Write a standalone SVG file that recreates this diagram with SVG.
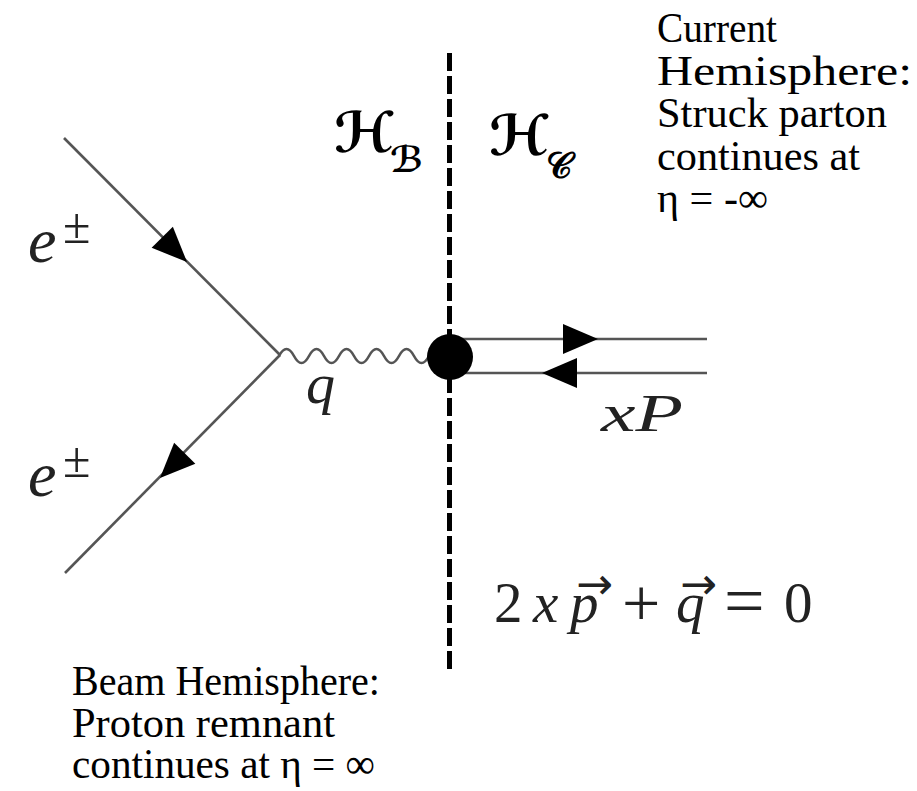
<svg xmlns="http://www.w3.org/2000/svg" width="917" height="791" viewBox="0 0 917 791">
<style>
.line{stroke:#555;stroke-width:2.6;fill:none}
.wave{stroke:#555;stroke-width:2.6;fill:none}
.dash{stroke:#000;stroke-width:5;stroke-dasharray:18 5;fill:none}
.math{font-family:"Liberation Serif","DejaVu Serif",serif;fill:#222}
.it{font-style:italic}
.vec{font-family:"DejaVu Sans",sans-serif;font-style:normal;font-size:44px}
.script{font-family:"DejaVu Sans","DejaVu Serif",serif;fill:#000;font-weight:bold}
.note{font-family:"Liberation Serif","DejaVu Serif",serif;font-size:42px;fill:#000}
</style>
<defs>
<path id="ah" d="M0,0 L-35,-15 L-35,15 Z" fill="#000"/>
</defs>
<rect width="917" height="791" fill="#fff"/>
<g id="connectors">
<line class="dash" x1="449.5" y1="53" x2="449.5" y2="672"/>
<line class="line" x1="64" y1="138" x2="280" y2="355"/>
<line class="line" x1="280" y1="355" x2="65" y2="573"/>
<path class="wave" d="M279,356 q7.5,-14 15,0 t15,0 t15,0 t15,0 t15,0 t15,0 t15,0 t15,0 t15,0 t15,0"/>
<line class="line" x1="450" y1="339" x2="707" y2="339"/>
<line class="line" x1="450" y1="373" x2="707" y2="373"/>
<use href="#ah" transform="translate(187,262) rotate(45)"/>
<use href="#ah" transform="translate(160,478) rotate(135)"/>
<use href="#ah" transform="translate(598,339)"/>
<use href="#ah" transform="translate(542,373) rotate(180)"/>
</g>
<g id="vertex">
<circle cx="450" cy="357" r="23" fill="#000"/>
</g>
<g id="label-e1">
<text class="math it" x="28" y="262" font-size="64">e<tspan font-style="normal" font-size="50" x="63" y="243">±</tspan></text>
</g>
<g id="label-e2">
<text class="math it" x="28" y="496" font-size="64">e<tspan font-style="normal" font-size="50" x="63" y="477">±</tspan></text>
</g>
<g id="label-q">
<text class="math it" x="306" y="403" font-size="58">q</text>
</g>
<g id="label-xP">
<text class="math it" x="601" y="431" font-size="52" textLength="82" lengthAdjust="spacingAndGlyphs">xP</text>
</g>
<g id="label-HB">
<text class="script" x="334" y="152" font-size="56">ℋ<tspan x="390" y="172" font-size="36">ℬ</tspan></text>
</g>
<g id="label-HC">
<text class="script" x="489" y="155" font-size="56">ℋ<tspan x="546" y="178" font-size="36">𝒞</tspan></text>
</g>
<g id="equation">
<text class="math" x="494" y="622" font-size="57">2<tspan class="it" x="533">x</tspan><tspan class="it" x="570">p</tspan><tspan class="vec" x="576" y="599">→</tspan><tspan x="622" y="626" font-size="68">+</tspan><tspan class="it" x="676" y="622">q</tspan><tspan class="vec" x="680" y="599">→</tspan><tspan x="724" y="625" font-size="72">=</tspan><tspan x="784" y="622">0</tspan></text>
</g>
<g id="current-hemisphere">
<text class="note" x="657" y="42" textLength="120" lengthAdjust="spacingAndGlyphs">Current</text>
<text class="note" x="657" y="85" textLength="255" lengthAdjust="spacingAndGlyphs">Hemisphere:</text>
<text class="note" x="657" y="127" textLength="230" lengthAdjust="spacingAndGlyphs">Struck parton</text>
<text class="note" x="657" y="170" textLength="203" lengthAdjust="spacingAndGlyphs">continues at</text>
<text class="note" x="657" y="212" textLength="111" lengthAdjust="spacingAndGlyphs">η = -∞</text>
</g>
<g id="beam-hemisphere">
<text class="note" x="72" y="695" textLength="308" lengthAdjust="spacingAndGlyphs">Beam Hemisphere:</text>
<text class="note" x="72" y="737" textLength="263" lengthAdjust="spacingAndGlyphs">Proton remnant</text>
<text class="note" x="72" y="778" textLength="303" lengthAdjust="spacingAndGlyphs">continues at η = ∞</text>
</g>
</svg>
